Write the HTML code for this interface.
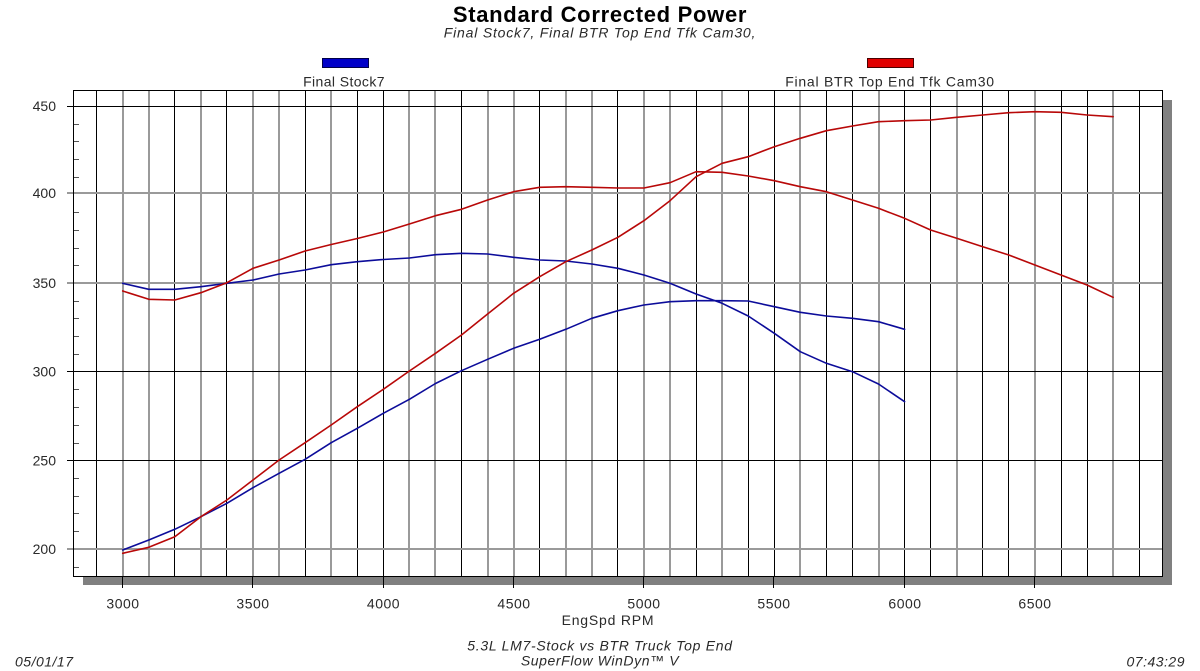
<!DOCTYPE html>
<html>
<head>
<meta charset="utf-8">
<style>
html,body{margin:0;padding:0;background:#fff;}
svg{display:block;}
text{font-family:"Liberation Sans",Arial,sans-serif;fill:#2a2a2a;}
</style>
</head>
<body>
<svg width="1200" height="671" viewBox="0 0 1200 671" xmlns="http://www.w3.org/2000/svg">
  <!-- Title -->
  <text x="600" y="22" text-anchor="middle" font-size="22" font-weight="bold" letter-spacing="0.7" style="fill:#000">Standard Corrected Power</text>
  <text x="600" y="37.5" text-anchor="middle" font-size="14" font-style="italic" letter-spacing="0.8">Final Stock7,  Final BTR Top End Tfk Cam30,</text>

  <!-- Legend -->
  <rect x="322.5" y="58.5" width="46" height="9" fill="#0000c8" stroke="#00004a" stroke-width="1"/>
  <text x="344" y="86.5" text-anchor="middle" font-size="14" letter-spacing="0.4">Final Stock7</text>
  <rect x="867.5" y="58.5" width="46" height="9" fill="#e00000" stroke="#4a0000" stroke-width="1"/>
  <text x="890" y="86.5" text-anchor="middle" font-size="14" letter-spacing="0.75">Final BTR Top End Tfk Cam30</text>

  <!-- Shadow -->
  <rect x="83" y="100" width="1089" height="485" fill="#808080"/>
  <!-- Plot area -->
  <rect x="73" y="90" width="1090" height="487" fill="#fff"/>

  <g shape-rendering="crispEdges">
    <!-- vertical black grid lines -->
    <path stroke="#000" stroke-width="1" fill="none" d="
      M96.5 90V577 M174.5 90V577 M226.5 90V577 M305.5 90V577 M357.5 90V577 M383.5 90V577
      M461.5 90V577 M539.5 90V577 M617.5 90V577 M696.5 90V577 M748.5 90V577 M774.5 90V577
      M826.5 90V577 M852.5 90V577 M904.5 90V577 M930.5 90V577 M982.5 90V577 M1008.5 90V577
      M1061.5 90V577 M1087.5 90V577 M1139.5 90V577"/>
    <!-- vertical gray grid lines -->
    <path stroke="#9a9a9a" stroke-width="2" fill="none" d="
      M123 90V577 M149 90V577 M201 90V577 M253 90V577 M279 90V577 M331 90V577
      M409 90V577 M435 90V577 M488 90V577 M514 90V577 M566 90V577 M592 90V577
      M644 90V577 M670 90V577 M722 90V577 M800 90V577 M879 90V577 M957 90V577
      M1035 90V577 M1113 90V577"/>
    <!-- horizontal grid lines -->
    <path stroke="#000" stroke-width="1" fill="none" d="M67 106.5H1163 M67 371.5H1163 M67 460.5H1163"/>
    <path stroke="#9a9a9a" stroke-width="2" fill="none" d="M67 193H1163 M67 283H1163 M67 549H1163"/>
    <!-- minor y ticks -->
    <path stroke="#555" stroke-width="1" fill="none" d="
      M73 124.5H79 M73 141.5H79 M73 159.5H79 M73 177.5H79
      M73 212.5H79 M73 230.5H79 M73 248.5H79 M73 265.5H79
      M73 301.5H79 M73 318.5H79 M73 336.5H79 M73 354.5H79
      M73 389.5H79 M73 407.5H79 M73 425.5H79 M73 443.5H79
      M73 478.5H79 M73 496.5H79 M73 513.5H79 M73 531.5H79
      M73 567.5H79"/>
    <!-- frame -->
    <rect x="73.5" y="90.5" width="1089" height="486" fill="none" stroke="#000" stroke-width="1"/>
    <!-- x major ticks -->
    <path stroke="#000" stroke-width="1" fill="none" d="
      M122.5 577V588 M252.5 577V588 M383.5 577V588 M513.5 577V588 M643.5 577V588
      M773.5 577V588 M904.5 577V588 M1034.5 577V588"/>
  </g>

  <!-- Series -->
  <g fill="none" stroke-width="1.6" stroke-linejoin="round" stroke-linecap="round">
    <!-- Blue HP -->
    <polyline stroke="#0c0c9a" points="122.7,550 148.8,540 174.8,529.3 200.9,516.7 226.9,503.3 253.0,487.7 279.1,473.3 305.1,459.3 331.2,442.7 357.3,428.3 383.3,413.3 409.4,399.3 435.5,383.5 461.5,370.7 487.6,359.3 513.6,348.3 539.7,339.3 565.8,329.3 591.8,318.3 617.9,310.7 643.9,305 670.0,301.7 696.1,300.7 722.1,300.7 748.2,301 774.3,306.7 800.3,312.3 826.4,316 852.5,318.3 878.5,321.7 904.6,329.3"/>
    <!-- Blue torque -->
    <polyline stroke="#0c0c9a" points="122.7,283.3 148.8,289.3 174.8,289.3 200.9,286.7 226.9,283.3 253.0,280 279.1,274 305.1,270 331.2,264.7 357.3,261.7 383.3,259.5 409.4,258 435.5,254.7 461.5,253.3 487.6,254 513.6,257.3 539.7,260 565.8,261 591.8,264 617.9,268.3 643.9,275 670.0,283.3 696.1,294 722.1,303.3 748.2,316 774.3,333.3 800.3,351.7 826.4,363.3 852.5,371.7 878.5,384 904.6,401.7"/>
    <!-- Red HP -->
    <polyline stroke="#b80808" points="122.7,553.3 148.8,547.3 174.8,536.7 200.9,516.7 226.9,500 253.0,480 279.1,460 305.1,442.7 331.2,425 357.3,406.7 383.3,389.3 409.4,371 435.5,353.3 461.5,335 487.6,314 513.6,293.3 539.7,276.7 565.8,261.7 591.8,250 617.9,237.3 643.9,220.7 670.0,200.7 696.1,176.7 722.1,163.3 748.2,156.7 774.3,146.7 800.3,138.3 826.4,130.7 852.5,126 878.5,121.7 904.6,120.7 930.6,120 956.7,117.3 982.8,115 1008.8,112.7 1034.9,111.7 1061.0,112.3 1087.0,115 1113.1,116.7"/>
    <!-- Red torque -->
    <polyline stroke="#b80808" points="122.7,291 148.8,299.3 174.8,300 200.9,292.7 226.9,282.7 253.0,268.3 279.1,260 305.1,251 331.2,244.5 357.3,238.5 383.3,232 409.4,224 435.5,215.7 461.5,209.3 487.6,200 513.6,191.7 539.7,187.3 565.8,186.7 591.8,187.3 617.9,188 643.9,188 670.0,182.7 696.1,171.7 722.1,172.3 748.2,176 774.3,180.7 800.3,186.7 826.4,191.7 852.5,200 878.5,208.3 904.6,218.3 930.6,230 956.7,238.3 982.8,246.7 1008.8,255 1034.9,265 1061.0,275 1087.0,285 1113.1,297.3"/>
  </g>

  <!-- Y labels -->
  <g font-size="14" text-anchor="end">
    <text x="56" y="111">450</text>
    <text x="56" y="198">400</text>
    <text x="56" y="288">350</text>
    <text x="56" y="376.5">300</text>
    <text x="56" y="465.5">250</text>
    <text x="56" y="554">200</text>
  </g>

  <!-- X labels -->
  <g font-size="14" text-anchor="middle" letter-spacing="0.5">
    <text x="123" y="608.5">3000</text>
    <text x="253" y="608.5">3500</text>
    <text x="383.5" y="608.5">4000</text>
    <text x="514" y="608.5">4500</text>
    <text x="644" y="608.5">5000</text>
    <text x="774" y="608.5">5500</text>
    <text x="905" y="608.5">6000</text>
    <text x="1035" y="608.5">6500</text>
  </g>
  <text x="608" y="625" text-anchor="middle" font-size="14" letter-spacing="0.8">EngSpd RPM</text>

  <!-- Footer -->
  <text x="600" y="650.5" text-anchor="middle" font-size="14" font-style="italic" letter-spacing="0.7">5.3L LM7-Stock vs BTR Truck Top End</text>
  <text x="600" y="665.5" text-anchor="middle" font-size="14" font-style="italic" letter-spacing="0.6">SuperFlow WinDyn™ V</text>
  <text x="15" y="666.5" font-size="14" font-style="italic" letter-spacing="0.5">05/01/17</text>
  <text x="1185" y="666.5" text-anchor="end" font-size="14" font-style="italic" letter-spacing="0.5">07:43:29</text>
</svg>
</body>
</html>
